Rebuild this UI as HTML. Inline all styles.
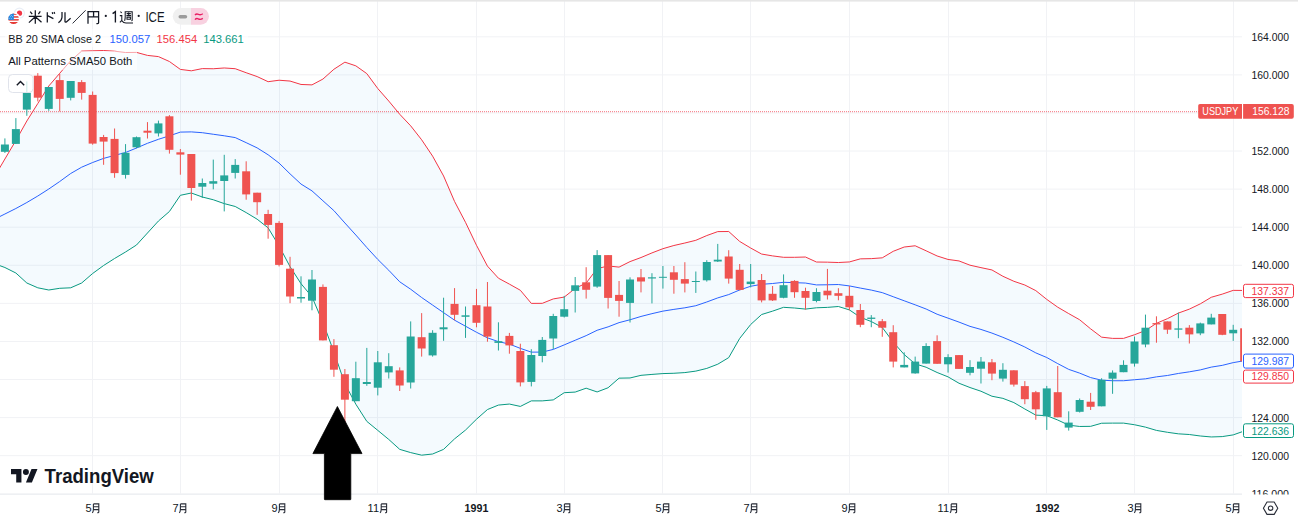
<!DOCTYPE html>
<html><head><meta charset="utf-8"><style>
html,body{margin:0;padding:0;background:#fff;}
body{width:1298px;height:517px;overflow:hidden;position:relative;font-family:"Liberation Sans",sans-serif;}
svg{position:absolute;left:0;top:0;}
</style></head><body>
<svg width="1298" height="517" viewBox="0 0 1298 517" font-family="Liberation Sans, sans-serif">
<defs>
<clipPath id="pane"><rect x="0" y="0" width="1242" height="494.5"/></clipPath>
<clipPath id="axis"><rect x="1242" y="0" width="60" height="494.6"/></clipPath>
<path id="tsuki" d="M1.2 0.6 V6 Q1.2 8.6 0 9.6 M1.2 0.6 H6.6 V8.8 Q6.6 9.5 5.8 9.5 H5 M1.2 3.5 H6.6 M1.2 6.3 H6.6" fill="none" stroke="#2a2e39" stroke-width="1.1"/>
</defs>
<rect x="0" y="0" width="1298" height="517" fill="#fff"/>

<g stroke="#f1f2f5" stroke-width="1">
<line x1="0" x2="1242" y1="493.76" y2="493.76"/>
<line x1="0" x2="1242" y1="455.68" y2="455.68"/>
<line x1="0" x2="1242" y1="417.60" y2="417.60"/>
<line x1="0" x2="1242" y1="379.52" y2="379.52"/>
<line x1="0" x2="1242" y1="341.44" y2="341.44"/>
<line x1="0" x2="1242" y1="303.36" y2="303.36"/>
<line x1="0" x2="1242" y1="265.28" y2="265.28"/>
<line x1="0" x2="1242" y1="227.20" y2="227.20"/>
<line x1="0" x2="1242" y1="189.12" y2="189.12"/>
<line x1="0" x2="1242" y1="151.04" y2="151.04"/>
<line x1="0" x2="1242" y1="112.96" y2="112.96"/>
<line x1="0" x2="1242" y1="74.88" y2="74.88"/>
<line x1="0" x2="1242" y1="36.80" y2="36.80"/>
<line x1="92.5" x2="92.5" y1="0" y2="494.5"/>
<line x1="180.5" x2="180.5" y1="0" y2="494.5"/>
<line x1="279.5" x2="279.5" y1="0" y2="494.5"/>
<line x1="377.5" x2="377.5" y1="0" y2="494.5"/>
<line x1="476.5" x2="476.5" y1="0" y2="494.5"/>
<line x1="564.5" x2="564.5" y1="0" y2="494.5"/>
<line x1="662.5" x2="662.5" y1="0" y2="494.5"/>
<line x1="750.5" x2="750.5" y1="0" y2="494.5"/>
<line x1="849.5" x2="849.5" y1="0" y2="494.5"/>
<line x1="948.5" x2="948.5" y1="0" y2="494.5"/>
<line x1="1046.5" x2="1046.5" y1="0" y2="494.5"/>
<line x1="1134.5" x2="1134.5" y1="0" y2="494.5"/>
<line x1="1233.5" x2="1233.5" y1="0" y2="494.5"/>
</g>
<g clip-path="url(#pane)">
<polygon points="-6.07,177.60 4.90,159.00 15.87,140.50 26.83,121.00 37.80,103.50 48.77,86.00 59.73,73.30 70.70,60.70 81.67,51.10 92.64,50.80 103.60,50.50 114.57,51.20 125.54,52.50 136.50,52.40 147.47,55.40 158.44,56.60 169.41,61.50 180.37,69.40 191.34,70.80 202.31,68.60 213.27,68.75 224.24,67.98 235.21,68.69 246.17,72.73 257.14,76.57 268.11,81.70 279.07,80.22 290.04,81.05 301.01,84.46 311.98,84.89 322.94,79.05 333.91,69.25 344.88,62.16 355.84,65.83 366.81,73.61 377.78,88.50 388.75,101.06 399.71,114.24 410.68,125.84 421.65,139.81 432.61,156.15 443.58,175.98 454.55,201.45 465.51,222.34 476.48,245.24 487.45,266.10 498.42,278.20 509.38,284.12 520.35,290.28 531.32,303.38 542.28,303.33 553.25,298.93 564.22,297.09 575.18,288.41 586.15,283.08 597.12,268.61 608.09,265.97 619.05,267.10 630.02,261.60 640.99,257.54 651.95,252.91 662.92,248.69 673.89,245.50 684.85,243.02 695.82,240.31 706.79,235.55 717.75,231.60 728.72,231.51 739.69,241.45 750.66,248.00 761.62,254.06 772.59,255.90 783.56,257.31 794.52,257.31 805.49,257.03 816.46,262.02 827.43,262.16 838.39,262.53 849.36,261.94 860.33,258.85 871.29,258.64 882.26,257.84 893.23,251.31 904.19,247.02 915.16,245.77 926.13,250.80 937.10,255.96 948.06,259.44 959.03,260.94 970.00,265.20 980.96,267.64 991.93,269.95 1002.90,276.28 1013.86,281.28 1024.83,285.02 1035.80,290.61 1046.77,299.40 1057.73,307.18 1068.70,313.58 1079.67,319.78 1090.63,328.83 1101.60,337.15 1112.57,338.38 1123.53,338.38 1134.50,334.74 1145.47,330.50 1156.44,323.31 1167.40,318.68 1178.37,313.09 1189.34,309.13 1200.30,303.85 1211.27,297.28 1222.24,294.14 1233.20,290.36 1244.17,290.45 1244.17,431.03 1233.20,434.90 1222.24,436.60 1211.27,436.96 1200.30,435.99 1189.34,434.53 1178.37,433.83 1167.40,432.29 1156.44,430.40 1145.47,427.15 1134.50,424.74 1123.53,423.11 1112.57,423.11 1101.60,423.24 1090.63,426.35 1079.67,426.48 1068.70,425.16 1057.73,420.03 1046.77,415.66 1035.80,415.14 1024.83,409.00 1013.86,402.60 1002.90,398.36 991.93,396.23 980.96,391.22 970.00,387.54 959.03,383.26 948.06,376.86 937.10,372.49 926.13,367.24 915.16,363.87 904.19,354.56 893.23,342.14 882.26,327.43 871.29,321.54 860.33,317.30 849.36,309.88 838.39,306.51 827.43,307.39 816.46,307.79 805.49,309.09 794.52,308.01 783.56,307.32 772.59,311.13 761.62,314.53 750.66,324.54 739.69,338.43 728.72,357.62 717.75,364.21 706.79,368.41 695.82,371.11 684.85,372.58 673.89,373.27 662.92,373.58 651.95,374.41 640.99,375.33 630.02,377.97 619.05,378.17 608.09,387.76 597.12,391.95 586.15,388.20 575.18,392.09 564.22,392.70 553.25,399.91 542.28,400.88 531.32,400.88 520.35,406.43 509.38,404.05 498.42,405.08 487.45,409.55 476.48,419.24 465.51,430.08 454.55,438.88 443.58,449.36 432.61,454.00 421.65,455.18 410.68,452.60 399.71,449.35 388.75,439.44 377.78,430.36 366.81,421.36 355.84,404.21 344.88,383.78 333.91,352.00 322.94,322.54 311.98,296.82 301.01,283.66 290.04,266.66 279.07,245.94 268.11,227.86 257.14,219.20 246.17,212.59 235.21,206.48 224.24,203.61 213.27,199.75 202.31,197.00 191.34,193.00 180.37,195.30 169.41,211.50 158.44,221.00 147.47,233.00 136.50,245.00 125.54,252.00 114.57,258.50 103.60,265.50 92.64,273.50 81.67,283.00 70.70,287.80 59.73,288.30 48.77,290.00 37.80,287.80 26.83,283.00 15.87,273.00 4.90,267.50 -6.07,263.50" fill="rgba(33,150,243,0.05)"/>
<polyline points="-6.07,177.60 4.90,159.00 15.87,140.50 26.83,121.00 37.80,103.50 48.77,86.00 59.73,73.30 70.70,60.70 81.67,51.10 92.64,50.80 103.60,50.50 114.57,51.20 125.54,52.50 136.50,52.40 147.47,55.40 158.44,56.60 169.41,61.50 180.37,69.40 191.34,70.80 202.31,68.60 213.27,68.75 224.24,67.98 235.21,68.69 246.17,72.73 257.14,76.57 268.11,81.70 279.07,80.22 290.04,81.05 301.01,84.46 311.98,84.89 322.94,79.05 333.91,69.25 344.88,62.16 355.84,65.83 366.81,73.61 377.78,88.50 388.75,101.06 399.71,114.24 410.68,125.84 421.65,139.81 432.61,156.15 443.58,175.98 454.55,201.45 465.51,222.34 476.48,245.24 487.45,266.10 498.42,278.20 509.38,284.12 520.35,290.28 531.32,303.38 542.28,303.33 553.25,298.93 564.22,297.09 575.18,288.41 586.15,283.08 597.12,268.61 608.09,265.97 619.05,267.10 630.02,261.60 640.99,257.54 651.95,252.91 662.92,248.69 673.89,245.50 684.85,243.02 695.82,240.31 706.79,235.55 717.75,231.60 728.72,231.51 739.69,241.45 750.66,248.00 761.62,254.06 772.59,255.90 783.56,257.31 794.52,257.31 805.49,257.03 816.46,262.02 827.43,262.16 838.39,262.53 849.36,261.94 860.33,258.85 871.29,258.64 882.26,257.84 893.23,251.31 904.19,247.02 915.16,245.77 926.13,250.80 937.10,255.96 948.06,259.44 959.03,260.94 970.00,265.20 980.96,267.64 991.93,269.95 1002.90,276.28 1013.86,281.28 1024.83,285.02 1035.80,290.61 1046.77,299.40 1057.73,307.18 1068.70,313.58 1079.67,319.78 1090.63,328.83 1101.60,337.15 1112.57,338.38 1123.53,338.38 1134.50,334.74 1145.47,330.50 1156.44,323.31 1167.40,318.68 1178.37,313.09 1189.34,309.13 1200.30,303.85 1211.27,297.28 1222.24,294.14 1233.20,290.36 1244.17,290.45" fill="none" stroke="#f23645" stroke-width="1"/>
<polyline points="-6.07,219.50 4.90,214.00 15.87,208.50 26.83,202.50 37.80,196.00 48.77,189.00 59.73,181.50 70.70,173.50 81.67,167.20 92.64,162.50 103.60,158.40 114.57,155.40 125.54,152.50 136.50,148.00 147.47,143.30 158.44,139.30 169.41,135.80 180.37,132.10 191.34,131.90 202.31,132.70 213.27,134.25 224.24,135.79 235.21,137.58 246.17,142.66 257.14,147.88 268.11,154.78 279.07,163.08 290.04,173.85 301.01,184.06 311.98,190.86 322.94,200.79 333.91,210.63 344.88,222.97 355.84,235.02 366.81,247.49 377.78,259.43 388.75,270.25 399.71,281.79 410.68,289.22 421.65,297.50 432.61,305.08 443.58,312.67 454.55,320.17 465.51,326.21 476.48,332.24 487.45,337.83 498.42,341.64 509.38,344.09 520.35,348.36 531.32,352.13 542.28,352.10 553.25,349.42 564.22,344.89 575.18,340.25 586.15,335.64 597.12,330.28 608.09,326.87 619.05,322.63 630.02,319.78 640.99,316.44 651.95,313.66 662.92,311.13 673.89,309.39 684.85,307.80 695.82,305.71 706.79,301.98 717.75,297.90 728.72,294.57 739.69,289.94 750.66,286.27 761.62,284.30 772.59,283.51 783.56,282.31 794.52,282.66 805.49,283.06 816.46,284.91 827.43,284.77 838.39,284.52 849.36,285.91 860.33,288.07 871.29,290.09 882.26,292.63 893.23,296.73 904.19,300.79 915.16,304.82 926.13,309.02 937.10,314.23 948.06,318.15 959.03,322.10 970.00,326.37 980.96,329.43 991.93,333.09 1002.90,337.32 1013.86,341.94 1024.83,347.01 1035.80,352.88 1046.77,357.53 1057.73,363.61 1068.70,369.37 1079.67,373.13 1090.63,377.59 1101.60,380.19 1112.57,380.74 1123.53,380.74 1134.50,379.74 1145.47,378.82 1156.44,376.86 1167.40,375.49 1178.37,373.46 1189.34,371.83 1200.30,369.92 1211.27,367.12 1222.24,365.37 1233.20,362.63 1244.17,360.74" fill="none" stroke="#2962ff" stroke-width="1"/>
<polyline points="-6.07,263.50 4.90,267.50 15.87,273.00 26.83,283.00 37.80,287.80 48.77,290.00 59.73,288.30 70.70,287.80 81.67,283.00 92.64,273.50 103.60,265.50 114.57,258.50 125.54,252.00 136.50,245.00 147.47,233.00 158.44,221.00 169.41,211.50 180.37,195.30 191.34,193.00 202.31,197.00 213.27,199.75 224.24,203.61 235.21,206.48 246.17,212.59 257.14,219.20 268.11,227.86 279.07,245.94 290.04,266.66 301.01,283.66 311.98,296.82 322.94,322.54 333.91,352.00 344.88,383.78 355.84,404.21 366.81,421.36 377.78,430.36 388.75,439.44 399.71,449.35 410.68,452.60 421.65,455.18 432.61,454.00 443.58,449.36 454.55,438.88 465.51,430.08 476.48,419.24 487.45,409.55 498.42,405.08 509.38,404.05 520.35,406.43 531.32,400.88 542.28,400.88 553.25,399.91 564.22,392.70 575.18,392.09 586.15,388.20 597.12,391.95 608.09,387.76 619.05,378.17 630.02,377.97 640.99,375.33 651.95,374.41 662.92,373.58 673.89,373.27 684.85,372.58 695.82,371.11 706.79,368.41 717.75,364.21 728.72,357.62 739.69,338.43 750.66,324.54 761.62,314.53 772.59,311.13 783.56,307.32 794.52,308.01 805.49,309.09 816.46,307.79 827.43,307.39 838.39,306.51 849.36,309.88 860.33,317.30 871.29,321.54 882.26,327.43 893.23,342.14 904.19,354.56 915.16,363.87 926.13,367.24 937.10,372.49 948.06,376.86 959.03,383.26 970.00,387.54 980.96,391.22 991.93,396.23 1002.90,398.36 1013.86,402.60 1024.83,409.00 1035.80,415.14 1046.77,415.66 1057.73,420.03 1068.70,425.16 1079.67,426.48 1090.63,426.35 1101.60,423.24 1112.57,423.11 1123.53,423.11 1134.50,424.74 1145.47,427.15 1156.44,430.40 1167.40,432.29 1178.37,433.83 1189.34,434.53 1200.30,435.99 1211.27,436.96 1222.24,436.60 1233.20,434.90 1244.17,431.03" fill="none" stroke="#089981" stroke-width="1"/>
<line x1="0" x2="1242" y1="111.7" y2="111.7" stroke="#f23645" stroke-width="1" stroke-dasharray="1 1" opacity="0.7"/>
<rect x="4.40" y="138.4" width="1" height="14.5" fill="#26a69a"/>
<rect x="0.90" y="144.5" width="8" height="7.3" fill="#26a69a"/>
<rect x="15.37" y="118.1" width="1" height="25.8" fill="#26a69a"/>
<rect x="11.87" y="129.1" width="8" height="14.8" fill="#26a69a"/>
<rect x="26.33" y="81.4" width="1" height="34.4" fill="#26a69a"/>
<rect x="22.83" y="92.9" width="8" height="16.7" fill="#26a69a"/>
<rect x="37.30" y="73.1" width="1" height="28.3" fill="#ef5350"/>
<rect x="33.80" y="75.7" width="8" height="22.0" fill="#ef5350"/>
<rect x="48.27" y="87.0" width="1" height="23.8" fill="#26a69a"/>
<rect x="44.77" y="87.0" width="8" height="21.9" fill="#26a69a"/>
<rect x="59.23" y="73.7" width="1" height="37.7" fill="#ef5350"/>
<rect x="55.73" y="80.1" width="8" height="18.8" fill="#ef5350"/>
<rect x="70.20" y="81.0" width="1" height="19.4" fill="#26a69a"/>
<rect x="66.70" y="81.0" width="8" height="16.8" fill="#26a69a"/>
<rect x="81.17" y="80.1" width="1" height="19.5" fill="#ef5350"/>
<rect x="77.67" y="82.1" width="8" height="10.8" fill="#ef5350"/>
<rect x="92.14" y="91.5" width="1" height="53.2" fill="#ef5350"/>
<rect x="88.64" y="94.9" width="8" height="48.7" fill="#ef5350"/>
<rect x="103.10" y="134.9" width="1" height="29.9" fill="#ef5350"/>
<rect x="99.60" y="137.0" width="8" height="4.6" fill="#ef5350"/>
<rect x="114.07" y="128.5" width="1" height="49.3" fill="#ef5350"/>
<rect x="110.57" y="138.9" width="8" height="34.2" fill="#ef5350"/>
<rect x="125.04" y="144.1" width="1" height="34.5" fill="#26a69a"/>
<rect x="121.54" y="152.8" width="8" height="22.1" fill="#26a69a"/>
<rect x="136.00" y="136.5" width="1" height="11.8" fill="#26a69a"/>
<rect x="132.50" y="137.2" width="8" height="10.1" fill="#26a69a"/>
<rect x="146.97" y="122.1" width="1" height="16.4" fill="#ef5350"/>
<rect x="143.47" y="130.7" width="8" height="2.0" fill="#ef5350"/>
<rect x="157.94" y="120.6" width="1" height="15.9" fill="#26a69a"/>
<rect x="154.44" y="123.4" width="8" height="10.0" fill="#26a69a"/>
<rect x="168.91" y="115.1" width="1" height="38.5" fill="#ef5350"/>
<rect x="165.41" y="116.3" width="8" height="33.5" fill="#ef5350"/>
<rect x="179.87" y="149.0" width="1" height="25.7" fill="#ef5350"/>
<rect x="176.37" y="152.3" width="8" height="2.3" fill="#ef5350"/>
<rect x="190.84" y="154.0" width="1" height="46.6" fill="#ef5350"/>
<rect x="187.34" y="154.0" width="8" height="34.0" fill="#ef5350"/>
<rect x="201.81" y="178.5" width="1" height="19.5" fill="#26a69a"/>
<rect x="198.31" y="183.0" width="8" height="3.7" fill="#26a69a"/>
<rect x="212.77" y="159.6" width="1" height="29.7" fill="#26a69a"/>
<rect x="209.27" y="181.2" width="8" height="2.5" fill="#26a69a"/>
<rect x="223.74" y="154.8" width="1" height="56.6" fill="#26a69a"/>
<rect x="220.24" y="175.4" width="8" height="5.6" fill="#26a69a"/>
<rect x="234.71" y="159.1" width="1" height="19.4" fill="#26a69a"/>
<rect x="231.21" y="164.9" width="8" height="8.0" fill="#26a69a"/>
<rect x="245.67" y="161.3" width="1" height="38.4" fill="#ef5350"/>
<rect x="242.17" y="171.3" width="8" height="23.1" fill="#ef5350"/>
<rect x="256.64" y="192.7" width="1" height="22.1" fill="#ef5350"/>
<rect x="253.14" y="192.7" width="8" height="9.5" fill="#ef5350"/>
<rect x="267.61" y="209.8" width="1" height="28.9" fill="#ef5350"/>
<rect x="264.11" y="214.0" width="8" height="10.9" fill="#ef5350"/>
<rect x="278.57" y="221.1" width="1" height="45.3" fill="#ef5350"/>
<rect x="275.07" y="222.9" width="8" height="42.0" fill="#ef5350"/>
<rect x="289.54" y="256.8" width="1" height="46.4" fill="#ef5350"/>
<rect x="286.04" y="268.7" width="8" height="27.8" fill="#ef5350"/>
<rect x="300.51" y="276.3" width="1" height="26.4" fill="#26a69a"/>
<rect x="297.01" y="297.0" width="8" height="1.5" fill="#26a69a"/>
<rect x="311.48" y="270.0" width="1" height="40.3" fill="#26a69a"/>
<rect x="307.98" y="279.5" width="8" height="21.2" fill="#26a69a"/>
<rect x="322.44" y="284.4" width="1" height="56.0" fill="#ef5350"/>
<rect x="318.94" y="286.9" width="8" height="53.5" fill="#ef5350"/>
<rect x="333.41" y="339.1" width="1" height="37.7" fill="#ef5350"/>
<rect x="329.91" y="345.2" width="8" height="24.5" fill="#ef5350"/>
<rect x="344.38" y="369.0" width="1" height="56.0" fill="#ef5350"/>
<rect x="340.88" y="374.2" width="8" height="25.5" fill="#ef5350"/>
<rect x="355.34" y="361.7" width="1" height="39.5" fill="#26a69a"/>
<rect x="351.84" y="378.2" width="8" height="23.0" fill="#26a69a"/>
<rect x="366.31" y="347.9" width="1" height="37.9" fill="#26a69a"/>
<rect x="362.81" y="382.0" width="8" height="2.0" fill="#26a69a"/>
<rect x="377.28" y="351.0" width="1" height="44.4" fill="#26a69a"/>
<rect x="373.78" y="362.3" width="8" height="25.4" fill="#26a69a"/>
<rect x="388.25" y="353.2" width="1" height="25.3" fill="#26a69a"/>
<rect x="384.75" y="366.2" width="8" height="6.2" fill="#26a69a"/>
<rect x="399.21" y="367.4" width="1" height="23.6" fill="#ef5350"/>
<rect x="395.71" y="370.4" width="8" height="15.1" fill="#ef5350"/>
<rect x="410.18" y="321.4" width="1" height="67.1" fill="#26a69a"/>
<rect x="406.68" y="336.5" width="8" height="46.0" fill="#26a69a"/>
<rect x="421.15" y="313.1" width="1" height="43.5" fill="#ef5350"/>
<rect x="417.65" y="337.2" width="8" height="11.3" fill="#ef5350"/>
<rect x="432.11" y="330.2" width="1" height="26.4" fill="#26a69a"/>
<rect x="428.61" y="332.8" width="8" height="22.6" fill="#26a69a"/>
<rect x="443.08" y="297.7" width="1" height="43.1" fill="#26a69a"/>
<rect x="439.58" y="327.3" width="8" height="2.0" fill="#26a69a"/>
<rect x="454.05" y="288.1" width="1" height="32.2" fill="#ef5350"/>
<rect x="450.55" y="303.9" width="8" height="10.9" fill="#ef5350"/>
<rect x="465.01" y="306.5" width="1" height="31.4" fill="#26a69a"/>
<rect x="461.51" y="315.3" width="8" height="1.5" fill="#26a69a"/>
<rect x="475.98" y="288.9" width="1" height="38.4" fill="#ef5350"/>
<rect x="472.48" y="305.2" width="8" height="17.6" fill="#ef5350"/>
<rect x="486.95" y="282.0" width="1" height="59.7" fill="#ef5350"/>
<rect x="483.45" y="306.5" width="8" height="30.1" fill="#ef5350"/>
<rect x="497.92" y="322.3" width="1" height="28.2" fill="#26a69a"/>
<rect x="494.42" y="341.2" width="8" height="1.7" fill="#26a69a"/>
<rect x="508.88" y="332.9" width="1" height="20.8" fill="#ef5350"/>
<rect x="505.38" y="335.9" width="8" height="9.5" fill="#ef5350"/>
<rect x="519.85" y="343.7" width="1" height="42.7" fill="#ef5350"/>
<rect x="516.35" y="351.0" width="8" height="31.4" fill="#ef5350"/>
<rect x="530.82" y="349.2" width="1" height="37.2" fill="#26a69a"/>
<rect x="527.32" y="355.0" width="8" height="26.9" fill="#26a69a"/>
<rect x="541.78" y="337.0" width="1" height="25.3" fill="#26a69a"/>
<rect x="538.28" y="339.9" width="8" height="16.1" fill="#26a69a"/>
<rect x="552.75" y="313.8" width="1" height="35.2" fill="#26a69a"/>
<rect x="549.25" y="316.0" width="8" height="22.5" fill="#26a69a"/>
<rect x="563.72" y="295.9" width="1" height="21.6" fill="#26a69a"/>
<rect x="560.22" y="309.2" width="8" height="7.5" fill="#26a69a"/>
<rect x="574.68" y="277.0" width="1" height="35.5" fill="#26a69a"/>
<rect x="571.18" y="285.3" width="8" height="5.6" fill="#26a69a"/>
<rect x="585.65" y="267.2" width="1" height="31.4" fill="#ef5350"/>
<rect x="582.15" y="282.3" width="8" height="7.5" fill="#ef5350"/>
<rect x="596.62" y="250.1" width="1" height="37.7" fill="#26a69a"/>
<rect x="593.12" y="255.1" width="8" height="31.5" fill="#26a69a"/>
<rect x="607.59" y="255.1" width="1" height="53.4" fill="#ef5350"/>
<rect x="604.09" y="255.1" width="8" height="42.8" fill="#ef5350"/>
<rect x="618.55" y="281.0" width="1" height="35.7" fill="#ef5350"/>
<rect x="615.05" y="294.9" width="8" height="6.0" fill="#ef5350"/>
<rect x="629.52" y="277.3" width="1" height="45.2" fill="#26a69a"/>
<rect x="626.02" y="279.5" width="8" height="23.4" fill="#26a69a"/>
<rect x="640.49" y="269.0" width="1" height="23.4" fill="#ef5350"/>
<rect x="636.99" y="277.3" width="8" height="4.2" fill="#ef5350"/>
<rect x="651.45" y="273.2" width="1" height="30.2" fill="#26a69a"/>
<rect x="647.95" y="277.3" width="8" height="1.2" fill="#26a69a"/>
<rect x="662.42" y="266.0" width="1" height="22.6" fill="#26a69a"/>
<rect x="658.92" y="276.8" width="8" height="1.0" fill="#26a69a"/>
<rect x="673.39" y="266.0" width="1" height="27.7" fill="#ef5350"/>
<rect x="669.89" y="272.3" width="8" height="7.5" fill="#ef5350"/>
<rect x="684.35" y="262.2" width="1" height="30.2" fill="#ef5350"/>
<rect x="680.85" y="279.1" width="8" height="4.5" fill="#ef5350"/>
<rect x="695.32" y="271.5" width="1" height="21.4" fill="#26a69a"/>
<rect x="691.82" y="281.0" width="8" height="1.0" fill="#26a69a"/>
<rect x="706.29" y="260.2" width="1" height="21.4" fill="#26a69a"/>
<rect x="702.79" y="262.0" width="8" height="18.3" fill="#26a69a"/>
<rect x="717.25" y="243.9" width="1" height="18.1" fill="#26a69a"/>
<rect x="713.75" y="259.7" width="8" height="1.8" fill="#26a69a"/>
<rect x="728.22" y="250.2" width="1" height="33.4" fill="#ef5350"/>
<rect x="724.72" y="256.5" width="8" height="22.1" fill="#ef5350"/>
<rect x="739.19" y="264.0" width="1" height="26.4" fill="#ef5350"/>
<rect x="735.69" y="269.8" width="8" height="20.1" fill="#ef5350"/>
<rect x="750.16" y="264.0" width="1" height="23.4" fill="#26a69a"/>
<rect x="746.66" y="281.6" width="8" height="2.5" fill="#26a69a"/>
<rect x="761.12" y="274.0" width="1" height="28.4" fill="#ef5350"/>
<rect x="757.62" y="280.0" width="8" height="20.4" fill="#ef5350"/>
<rect x="772.09" y="286.0" width="1" height="15.0" fill="#ef5350"/>
<rect x="768.59" y="293.8" width="8" height="6.6" fill="#ef5350"/>
<rect x="783.06" y="274.4" width="1" height="23.9" fill="#26a69a"/>
<rect x="779.56" y="285.2" width="8" height="12.6" fill="#26a69a"/>
<rect x="794.02" y="280.2" width="1" height="17.6" fill="#ef5350"/>
<rect x="790.52" y="280.9" width="8" height="11.3" fill="#ef5350"/>
<rect x="804.99" y="287.7" width="1" height="21.9" fill="#ef5350"/>
<rect x="801.49" y="291.0" width="8" height="6.8" fill="#ef5350"/>
<rect x="815.96" y="288.2" width="1" height="14.1" fill="#26a69a"/>
<rect x="812.46" y="292.0" width="8" height="9.0" fill="#26a69a"/>
<rect x="826.93" y="268.9" width="1" height="30.6" fill="#ef5350"/>
<rect x="823.43" y="290.7" width="8" height="4.6" fill="#ef5350"/>
<rect x="837.89" y="288.2" width="1" height="12.1" fill="#ef5350"/>
<rect x="834.39" y="293.2" width="8" height="2.6" fill="#ef5350"/>
<rect x="848.86" y="286.0" width="1" height="24.3" fill="#ef5350"/>
<rect x="845.36" y="295.8" width="8" height="11.5" fill="#ef5350"/>
<rect x="859.83" y="304.0" width="1" height="23.2" fill="#ef5350"/>
<rect x="856.33" y="310.0" width="8" height="14.8" fill="#ef5350"/>
<rect x="870.79" y="315.1" width="1" height="12.1" fill="#26a69a"/>
<rect x="867.29" y="317.6" width="8" height="1.3" fill="#26a69a"/>
<rect x="881.76" y="319.0" width="1" height="17.8" fill="#ef5350"/>
<rect x="878.26" y="321.2" width="8" height="6.5" fill="#ef5350"/>
<rect x="892.73" y="325.2" width="1" height="42.2" fill="#ef5350"/>
<rect x="889.23" y="332.2" width="8" height="29.4" fill="#ef5350"/>
<rect x="903.69" y="352.3" width="1" height="15.1" fill="#26a69a"/>
<rect x="900.19" y="364.9" width="8" height="2.5" fill="#26a69a"/>
<rect x="914.66" y="356.6" width="1" height="17.1" fill="#26a69a"/>
<rect x="911.16" y="361.6" width="8" height="11.8" fill="#26a69a"/>
<rect x="925.63" y="343.2" width="1" height="20.4" fill="#26a69a"/>
<rect x="922.13" y="346.0" width="8" height="17.6" fill="#26a69a"/>
<rect x="936.60" y="335.3" width="1" height="28.5" fill="#ef5350"/>
<rect x="933.10" y="341.1" width="8" height="22.7" fill="#ef5350"/>
<rect x="947.56" y="354.2" width="1" height="18.4" fill="#26a69a"/>
<rect x="944.06" y="357.1" width="8" height="7.2" fill="#26a69a"/>
<rect x="958.53" y="355.1" width="1" height="13.8" fill="#ef5350"/>
<rect x="955.03" y="355.1" width="8" height="13.8" fill="#ef5350"/>
<rect x="969.50" y="360.2" width="1" height="15.1" fill="#26a69a"/>
<rect x="966.00" y="367.0" width="8" height="5.8" fill="#26a69a"/>
<rect x="980.46" y="357.0" width="1" height="26.5" fill="#26a69a"/>
<rect x="976.96" y="361.6" width="8" height="7.1" fill="#26a69a"/>
<rect x="991.43" y="359.0" width="1" height="21.2" fill="#ef5350"/>
<rect x="987.93" y="362.3" width="8" height="11.3" fill="#ef5350"/>
<rect x="1002.40" y="363.2" width="1" height="18.4" fill="#26a69a"/>
<rect x="998.90" y="369.8" width="8" height="8.8" fill="#26a69a"/>
<rect x="1013.36" y="370.3" width="1" height="16.3" fill="#ef5350"/>
<rect x="1009.86" y="370.3" width="8" height="14.3" fill="#ef5350"/>
<rect x="1024.33" y="381.1" width="1" height="23.1" fill="#ef5350"/>
<rect x="1020.83" y="386.1" width="8" height="13.1" fill="#ef5350"/>
<rect x="1035.30" y="390.9" width="1" height="28.9" fill="#ef5350"/>
<rect x="1031.80" y="392.2" width="8" height="17.1" fill="#ef5350"/>
<rect x="1046.27" y="385.9" width="1" height="44.0" fill="#26a69a"/>
<rect x="1042.77" y="388.4" width="8" height="27.9" fill="#26a69a"/>
<rect x="1057.23" y="366.0" width="1" height="51.3" fill="#ef5350"/>
<rect x="1053.73" y="392.2" width="8" height="25.1" fill="#ef5350"/>
<rect x="1068.20" y="411.3" width="1" height="19.3" fill="#26a69a"/>
<rect x="1064.70" y="422.6" width="8" height="5.0" fill="#26a69a"/>
<rect x="1079.17" y="398.5" width="1" height="14.0" fill="#26a69a"/>
<rect x="1075.67" y="400.0" width="8" height="11.8" fill="#26a69a"/>
<rect x="1090.13" y="392.9" width="1" height="17.1" fill="#ef5350"/>
<rect x="1086.63" y="401.7" width="8" height="5.1" fill="#ef5350"/>
<rect x="1101.10" y="378.2" width="1" height="28.1" fill="#26a69a"/>
<rect x="1097.60" y="379.8" width="8" height="26.5" fill="#26a69a"/>
<rect x="1112.07" y="370.4" width="1" height="23.4" fill="#26a69a"/>
<rect x="1108.57" y="372.6" width="8" height="6.1" fill="#26a69a"/>
<rect x="1123.03" y="360.3" width="1" height="11.9" fill="#26a69a"/>
<rect x="1119.53" y="364.9" width="8" height="7.3" fill="#26a69a"/>
<rect x="1134.00" y="336.5" width="1" height="30.1" fill="#26a69a"/>
<rect x="1130.50" y="341.5" width="8" height="22.1" fill="#26a69a"/>
<rect x="1144.97" y="314.6" width="1" height="32.7" fill="#26a69a"/>
<rect x="1141.47" y="327.7" width="8" height="16.8" fill="#26a69a"/>
<rect x="1155.94" y="316.3" width="1" height="26.4" fill="#ef5350"/>
<rect x="1152.44" y="323.1" width="8" height="1.3" fill="#ef5350"/>
<rect x="1166.90" y="321.4" width="1" height="12.5" fill="#ef5350"/>
<rect x="1163.40" y="321.4" width="8" height="8.3" fill="#ef5350"/>
<rect x="1177.87" y="312.6" width="1" height="25.6" fill="#26a69a"/>
<rect x="1174.37" y="328.4" width="8" height="1.3" fill="#26a69a"/>
<rect x="1188.84" y="325.1" width="1" height="18.4" fill="#ef5350"/>
<rect x="1185.34" y="327.7" width="8" height="6.7" fill="#ef5350"/>
<rect x="1199.80" y="322.6" width="1" height="12.6" fill="#26a69a"/>
<rect x="1196.30" y="323.4" width="8" height="10.0" fill="#26a69a"/>
<rect x="1210.77" y="313.8" width="1" height="10.6" fill="#26a69a"/>
<rect x="1207.27" y="317.6" width="8" height="6.8" fill="#26a69a"/>
<rect x="1221.74" y="314.0" width="1" height="21.2" fill="#ef5350"/>
<rect x="1218.24" y="314.0" width="8" height="20.8" fill="#ef5350"/>
<rect x="1232.70" y="324.8" width="1" height="16.1" fill="#26a69a"/>
<rect x="1229.20" y="329.8" width="8" height="3.5" fill="#26a69a"/>
<rect x="1243.67" y="326.0" width="1" height="36.0" fill="#ef5350"/>
<rect x="1240.17" y="328.3" width="8" height="33.1" fill="#ef5350"/>
</g>
<line x1="0" x2="1242" y1="494.5" y2="494.5" stroke="#eef0f3" stroke-width="1"/>
<rect x="0" y="0" width="1298" height="1.6" fill="#e6e6e6"/>
<g font-size="11" fill="#131722" text-anchor="end" clip-path="url(#axis)">
<text x="1289" y="497.8" textLength="37.5" lengthAdjust="spacingAndGlyphs">116.000</text>
<text x="1289" y="459.7" textLength="37.5" lengthAdjust="spacingAndGlyphs">120.000</text>
<text x="1289" y="421.6" textLength="37.5" lengthAdjust="spacingAndGlyphs">124.000</text>
<text x="1289" y="345.4" textLength="37.5" lengthAdjust="spacingAndGlyphs">132.000</text>
<text x="1289" y="307.4" textLength="37.5" lengthAdjust="spacingAndGlyphs">136.000</text>
<text x="1289" y="269.3" textLength="37.5" lengthAdjust="spacingAndGlyphs">140.000</text>
<text x="1289" y="231.2" textLength="37.5" lengthAdjust="spacingAndGlyphs">144.000</text>
<text x="1289" y="193.1" textLength="37.5" lengthAdjust="spacingAndGlyphs">148.000</text>
<text x="1289" y="155.0" textLength="37.5" lengthAdjust="spacingAndGlyphs">152.000</text>
<text x="1289" y="78.9" textLength="37.5" lengthAdjust="spacingAndGlyphs">160.000</text>
<text x="1289" y="40.8" textLength="37.5" lengthAdjust="spacingAndGlyphs">164.000</text>
</g>
<rect x="1243.5" y="284.3" width="50" height="13.3" rx="2" fill="#fff" stroke="#f23645" stroke-width="1"/>
<text x="1289" y="294.8" font-size="11" fill="#f23645" text-anchor="end" textLength="37.5" lengthAdjust="spacingAndGlyphs">137.337</text>
<rect x="1243.5" y="354.1" width="50" height="14.0" rx="2" fill="#fff" stroke="#2962ff" stroke-width="1"/>
<text x="1289" y="365.3" font-size="11" fill="#2962ff" text-anchor="end" textLength="37.5" lengthAdjust="spacingAndGlyphs">129.987</text>
<rect x="1243.5" y="370.1" width="50" height="13.0" rx="2" fill="#fff" stroke="#f23645" stroke-width="1"/>
<text x="1289" y="380.3" font-size="11" fill="#f23645" text-anchor="end" textLength="37.5" lengthAdjust="spacingAndGlyphs">129.850</text>
<rect x="1243.5" y="423.8" width="50" height="13.7" rx="2" fill="#fff" stroke="#089981" stroke-width="1"/>
<text x="1289" y="434.7" font-size="11" fill="#089981" text-anchor="end" textLength="37.5" lengthAdjust="spacingAndGlyphs">122.636</text>
<path d="M1200 104 H1242 V118.7 H1200 Q1198.2 118.7 1198.2 117 V105.7 Q1198.2 104 1200 104 Z" fill="#ef5350"/>
<path d="M1243.1 104 H1291.8 Q1293.8 104 1293.8 106 V116.7 Q1293.8 118.7 1291.8 118.7 H1243.1 Z" fill="#ef5350"/>
<text x="1202.3" y="115.4" font-size="11" fill="#fff" textLength="36" lengthAdjust="spacingAndGlyphs">USDJPY</text>
<text x="1289.4" y="115.4" font-size="11" fill="#fff" text-anchor="end" textLength="37.2" lengthAdjust="spacingAndGlyphs">156.128</text>
<text x="85.4" y="512" font-size="11" fill="#131722">5</text>
<use href="#tsuki" transform="translate(92.2,503.3)"/>
<text x="172.4" y="512" font-size="11" fill="#131722">7</text>
<use href="#tsuki" transform="translate(179.2,503.3)"/>
<text x="271.4" y="512" font-size="11" fill="#131722">9</text>
<use href="#tsuki" transform="translate(278.2,503.3)"/>
<text x="367.6" y="512" font-size="11" fill="#131722">11</text>
<use href="#tsuki" transform="translate(380.0,503.3)"/>
<text x="476.5" y="512" font-size="11" font-weight="bold" fill="#131722" text-anchor="middle" textLength="23.8" lengthAdjust="spacingAndGlyphs">1991</text>
<text x="556.4" y="512" font-size="11" fill="#131722">3</text>
<use href="#tsuki" transform="translate(563.2,503.3)"/>
<text x="655.4" y="512" font-size="11" fill="#131722">5</text>
<use href="#tsuki" transform="translate(662.2,503.3)"/>
<text x="743.4" y="512" font-size="11" fill="#131722">7</text>
<use href="#tsuki" transform="translate(750.2,503.3)"/>
<text x="841.4" y="512" font-size="11" fill="#131722">9</text>
<use href="#tsuki" transform="translate(848.2,503.3)"/>
<text x="937.6" y="512" font-size="11" fill="#131722">11</text>
<use href="#tsuki" transform="translate(950.0,503.3)"/>
<text x="1047.5" y="512" font-size="11" font-weight="bold" fill="#131722" text-anchor="middle" textLength="23.8" lengthAdjust="spacingAndGlyphs">1992</text>
<text x="1127.4" y="512" font-size="11" fill="#131722">3</text>
<use href="#tsuki" transform="translate(1134.2,503.3)"/>
<text x="1225.4" y="512" font-size="11" fill="#131722">5</text>
<use href="#tsuki" transform="translate(1232.2,503.3)"/>
<g transform="translate(1270.6,508.2)" fill="none" stroke="#2a2e39" stroke-width="1.1"><path d="M-3.6 -6.2 L3.6 -6.2 L7.2 0 L3.6 6.2 L-3.6 6.2 L-7.2 0 Z" stroke-linejoin="round"/><circle r="2.2"/></g>
<rect x="5" y="29" width="243" height="18" fill="rgba(255,255,255,0.55)"/>
<rect x="5" y="51" width="132" height="19" fill="rgba(255,255,255,0.55)"/>
<text x="8.2" y="42.8" font-size="11" fill="#131722" textLength="92.8" lengthAdjust="spacingAndGlyphs">BB 20 SMA close 2</text>
<text x="109.6" y="42.8" font-size="11" fill="#2962ff" textLength="40.6" lengthAdjust="spacingAndGlyphs">150.057</text>
<text x="156.6" y="42.8" font-size="11" fill="#f23645" textLength="40.6" lengthAdjust="spacingAndGlyphs">156.454</text>
<text x="203.2" y="42.8" font-size="11" fill="#089981" textLength="40.6" lengthAdjust="spacingAndGlyphs">143.661</text>
<text x="8.2" y="64.5" font-size="11" fill="#131722" textLength="124.2" lengthAdjust="spacingAndGlyphs">All Patterns SMA50 Both</text>
<rect x="8.5" y="74.5" width="24.5" height="18" rx="4" fill="rgba(255,255,255,0.75)" stroke="#e0e3eb" stroke-width="1"/>
<path d="M16.8 85.2 L20.5 81.5 L24.2 85.2" fill="none" stroke="#131722" stroke-width="1.4"/>
<circle cx="19.4" cy="13.1" r="5.0" fill="#fff" stroke="#e9eef6" stroke-width="1.2"/>
<circle cx="19.5" cy="13.2" r="2.6" fill="#f23645"/>
<circle cx="13.6" cy="18.7" r="6.5" fill="#fff"/>
<defs><clipPath id="usf"><circle cx="13.6" cy="18.7" r="5.3"/></clipPath></defs>
<g clip-path="url(#usf)"><rect x="8" y="13" width="12" height="12" fill="#fff"/><rect x="8" y="13.3" width="12" height="1.5" fill="#e53935"/><rect x="8" y="16.2" width="12" height="1.5" fill="#e53935"/><rect x="8" y="19.1" width="12" height="1.5" fill="#e53935"/><rect x="8" y="22" width="12" height="3" fill="#e53935"/><rect x="8" y="13" width="5.8" height="6.9" fill="#1e88e5"/><g fill="#fff" opacity="0.85"><circle cx="9.8" cy="15.3" r="0.45"/><circle cx="11.6" cy="15.3" r="0.45"/><circle cx="10.7" cy="16.8" r="0.45"/><circle cx="9.8" cy="18.3" r="0.45"/><circle cx="11.6" cy="18.3" r="0.45"/><circle cx="12.6" cy="16.8" r="0.45"/></g></g>
<g fill="none" stroke="#131722" stroke-width="1.25" stroke-linecap="butt">
<path d="M35.3 10.2 V23.8 M28.8 16.4 H41.6 M30.2 11.6 L32.2 14.2 M40.3 11.4 L38.4 14.2 M34.9 17 L28.9 22.6 M35.7 17 L41.5 22.3"/>
<path d="M47.3 12.2 V22.6 M47.5 15.6 L53.4 18.6 M52.2 12.3 L52.8 14 M54.1 12 L54.7 13.7" />
<path d="M62 11.9 V17.3 Q61.6 20.8 58.4 22.8 M65 12.2 V21.8 Q65.3 22.6 66.4 21.9 L70.6 18.3"/>
<path d="M72.6 23.4 L85.6 10.3" stroke-width="0.9"/>
<path d="M88 23.7 V11.7 H98.6 V22.8 Q98.6 23.5 97.6 23.5 H96.4 M93.6 11.7 V16.8 M88 16.8 H98.6"/>
<path d="M120.4 11.6 L121.8 13 M119.8 15.6 H121.8 V20.4 L119.9 22.4 M121.8 20.6 Q123.5 23 126 23 H133 M124.6 20.8 Q125.2 19 125.2 17 V11.8 H132.2 V20.2 Q132.2 20.8 131.3 20.8 M126.6 13.6 H130.8 M128.7 12.4 V15.6 M126.4 15.6 H131 M127 17.2 H130.4 V19.2 H127 Z" stroke-width="1.05"/>
</g>
<circle cx="105.8" cy="15.9" r="1.1" fill="#131722"/><circle cx="138.7" cy="15.9" r="1.1" fill="#131722"/>
<path d="M112.6 13.6 L115.4 11.6 V22.4" fill="none" stroke="#131722" stroke-width="1.35"/>
<text x="145.4" y="21.9" font-size="14" fill="#131722" textLength="19.2" lengthAdjust="spacingAndGlyphs">ICE</text>
<path d="M181.1 8 H191 V24.7 H181.1 A8.35 8.35 0 0 1 181.1 8 Z" fill="#f0f0f0"/>
<path d="M191 8 H200.6 A8.35 8.35 0 0 1 200.6 24.7 H191 Z" fill="#f8d1e0"/>
<rect x="178.5" y="14.9" width="8.7" height="3.5" rx="1.75" fill="#9b9b9b"/>
<path d="M195 15 Q196.5 13.2 198.5 14.4 Q200.5 15.4 202.8 13.8 M195 19.6 Q196.5 17.8 198.5 19 Q200.5 20 202.8 18.4" fill="none" stroke="#e91e63" stroke-width="1.4"/>
<path d="M337.4 406.5 L362 453.6 H350.8 V499.2 Q350.8 499.7 350.3 499.7 H324.9 Q324.4 499.7 324.4 499.2 V453.6 H312.9 Z" fill="#000" stroke="#000" stroke-width="0.8" stroke-linejoin="round"/>
<g transform="translate(11,466.1) scale(0.746)" fill="#131722"><path d="M14 22H7V11H0V4h14v18zM28 22h-8l7.5-18h8L28 22z"/><circle cx="20" cy="8" r="4"/></g>
<text x="44.6" y="482.5" font-size="19.4" font-weight="bold" fill="#131722" textLength="109.2" lengthAdjust="spacingAndGlyphs">TradingView</text>
</svg>
</body></html>
